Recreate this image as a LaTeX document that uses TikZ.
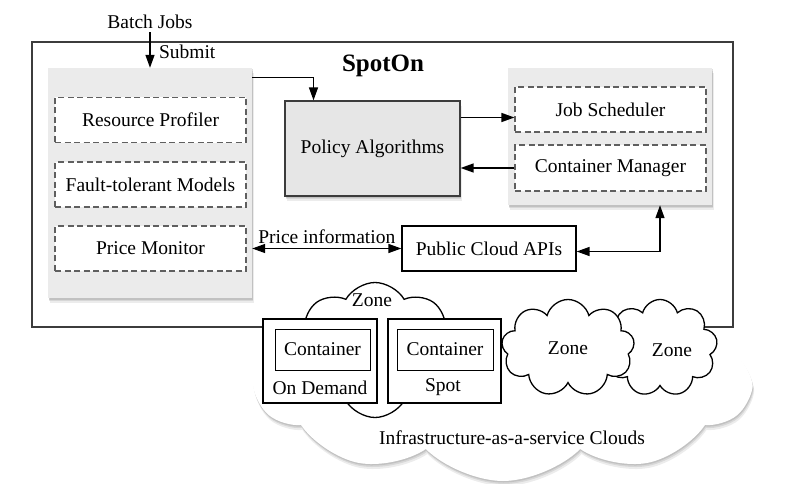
\documentclass[tikz,border=0pt]{standalone}
\usepackage{fontspec}
\setmainfont{Liberation Serif}
\usetikzlibrary{arrows.meta,shapes.symbols,shadows,positioning}
\definecolor{spgray}{RGB}{235,235,235}
\definecolor{sppolicy}{RGB}{230,230,230}
\definecolor{spline}{RGB}{60,60,60}
\definecolor{spdash}{RGB}{95,95,95}
\tikzset{softshadow/.style={drop shadow={shadow xshift=0.5pt,shadow yshift=-1.5pt,opacity=0.25},
  drop shadow={shadow xshift=1pt,shadow yshift=-3pt,opacity=0.2},
  drop shadow={shadow xshift=1.5pt,shadow yshift=-5pt,opacity=0.15}}}
\tikzstyle{arrow} = [line width=1.4pt,-{Triangle[length=13pt,width=9pt]},color=black]
\tikzstyle{dblarrow} = [arrow,{Triangle[length=13pt,width=9pt]}-{Triangle[length=13pt,width=9pt]}]
\tikzstyle{panel} = [rectangle, fill=spgray, softshadow]
\tikzstyle{module} = [rectangle, draw=spdash, dash pattern=on 6pt off 3.5pt, fill=white, line width=1.1pt, minimum width=191pt, minimum height=45pt]
\tikzstyle{plainbox} = [rectangle, draw=black, fill=white, line width=1.3pt, inner sep=0pt]
\tikzstyle{zonecloud} = [cloud, draw=black, fill=white, line width=1.3pt, aspect=1.3]

\begin{document}
\begin{tikzpicture}[x=1pt, y=-1pt, font=\fontsize{19.5}{23}\selectfont]
\useasboundingbox (0,0) rectangle (792,484);
% SpotOn frame
\node[draw=spline, line width=1.3pt, minimum width=701pt, minimum height=285pt, inner sep=0pt] (frame) at (382.5,184.5) {};
\node[font=\fontsize{25}{28}\selectfont\bfseries] (title) at (383,66) {SpotOn};

% left panel
\node[panel, minimum width=204pt, minimum height=230pt] (lpanel) at (150,183) {};
\node[module] (profiler) at (150.5,120) {Resource Profiler};
\node[module] (fault) at (150.5,184.5) {Fault-tolerant Models};
\node[module] (pricemon) at (150.5,248.5) {Price Monitor};

% policy
\node[rectangle, draw=spline, fill=sppolicy, line width=1.3pt, minimum width=175pt, minimum height=95pt, softshadow] (policy) at (372.5,148.5) {Policy Algorithms};

% right panel
\node[panel, minimum width=204pt, minimum height=137pt] (rpanel) at (610,136.5) {};
\node[module] (js) at (610.5,109.5) {Job Scheduler};
\node[module, minimum height=46pt] (cm) at (610.5,168) {Container Manager};

\node[plainbox, minimum width=174pt, minimum height=45pt] (api) at (489,248.5) {Public Cloud APIs};

% batch jobs
\node (batch) at (150,22) {Batch Jobs};
\draw[arrow] (batch.south) -- (lpanel.north) node[right, pos=0.55, xshift=5pt] (submit) {Submit};
\draw[arrow] ([yshift=-10pt]lpanel.north east) -| ([xshift=-59pt]policy.north);
\draw[arrow] ([yshift=-8pt]js.west -| policy.east) -- ([yshift=-8pt]js.west);
\draw[arrow] (cm.west) -- (cm.west -| policy.east);
\draw[dblarrow] (lpanel.east |- pricemon.east) -- (api.west) node[midway, above=1pt] (priceinfo) {Price information};
\draw[dblarrow] ([yshift=-3pt]api.east) -| ([xshift=50pt]rpanel.south);

% IaaS clouds
\node[cloud, cloud puffs=10, cloud puff arc=90, aspect=2.6, fill=white, minimum width=492pt, minimum height=190pt, softshadow] (iaas) at (503,386) {};
\node (iaastext) at (512,438) {Infrastructure-as-a-service Clouds};
\node[zonecloud, cloud puffs=8, cloud puff arc=120, minimum width=165pt, minimum height=135pt] (zoneA) at (375,350) {};
\node (zoneAtext) at (372,300) {Zone};
\node[zonecloud, cloud puffs=9, minimum width=115pt, minimum height=97pt] (zoneC) at (660,348) {};
\node (zoneCtext) at (672,350) {Zone};
\node[zonecloud, cloud puffs=9, minimum width=133pt, minimum height=97pt] (zoneB) at (568,348) {Zone};

% containers
\node[plainbox, minimum width=114pt, minimum height=84pt] (ondemand) at (320,361) {};
\node[plainbox, line width=1pt, minimum width=95pt, minimum height=41pt] (contA) at (322.5,349.5) {Container};
\node (ondemandtext) at (320,388) {On Demand};
\node[plainbox, minimum width=113pt, minimum height=84pt] (spot) at (444.5,361) {};
\node[plainbox, line width=1pt, minimum width=96pt, minimum height=41pt] (contB) at (445,349.5) {Container};
\node (spottext) at (443,387) {Spot};
\end{tikzpicture}
\end{document}
